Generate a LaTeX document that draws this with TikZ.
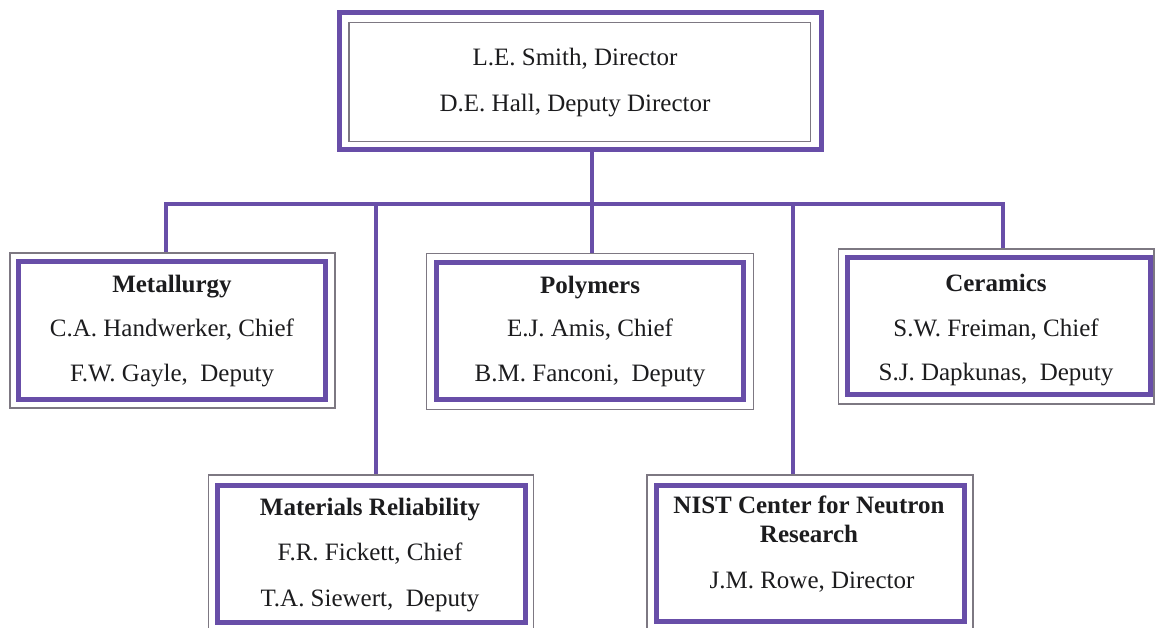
\documentclass[tikz,border=0pt]{standalone}
\usepackage{fontspec}
\setmainfont{Liberation Serif}
\definecolor{orgpurple}{RGB}{104,78,168}
\definecolor{framegrey}{RGB}{125,120,130}
\definecolor{inkgrey}{RGB}{28,28,30}
\begin{document}
\begin{tikzpicture}[x=1pt,y=-1pt,
  thickbox/.style={draw=orgpurple, line width=5pt, rectangle, inner sep=0pt},
  thinbox/.style={draw=framegrey, line width=1.3pt, rectangle, inner sep=0pt},
  conn/.style={draw=orgpurple, line width=4pt, line join=miter},
  txt/.style={anchor=base, inner sep=0pt, text=inkgrey, font=\fontsize{25}{29}\selectfont},
  ttl/.style={anchor=base, inner sep=0pt, text=inkgrey, font=\fontsize{25}{29}\selectfont\bfseries}]
\useasboundingbox (0,0) rectangle (1155,627);
\clip (0,0) rectangle (1155,627);
\fill[white] (0,0) rectangle (1155,627);

% director box
\node[thickbox, minimum width=482.4pt, minimum height=136.6pt] (top) at (580.5,81) {};
\node[thinbox, minimum width=461.7pt, minimum height=119pt] (topi) at (579.85,82.2) {};
\node[txt] (t1) at (575,65) {L.E. Smith, Director};
\node[txt] (t2) at (575,111.7) {D.E. Hall, Deputy Director};

% Metallurgy
\node[thinbox, minimum width=325pt, minimum height=155pt] (met) at (172.5,330.5) {};
\node[thickbox, minimum width=306.7pt, minimum height=137.6pt] (meti) at (171.65,330.5) {};
\node[ttl] (m1) at (172,292.7) {Metallurgy};
\node[txt] (m2) at (172,336) {C.A. Handwerker, Chief};
\node[txt] (m3) at (172,381.7) {F.W. Gayle,\ \ Deputy};

% Polymers
\node[thinbox, minimum width=326.6pt, minimum height=156pt] (pol) at (590,331.3) {};
\node[thickbox, minimum width=307pt, minimum height=136.6pt] (poli) at (589.5,331) {};
\node[ttl] (p1) at (590,293) {Polymers};
\node[txt] (p2) at (590,336.7) {E.J. Amis, Chief};
\node[txt] (p3) at (590,381.7) {B.M. Fanconi,\ \ Deputy};

% Ceramics
\node[thinbox, minimum width=315.7pt, minimum height=155pt] (cer) at (996.15,326.5) {};
\node[thickbox, minimum width=303.5pt, minimum height=137pt] (ceri) at (998.75,326) {};
\node[ttl] (c1) at (996,291.7) {Ceramics};
\node[txt] (c2) at (996,336.7) {S.W. Freiman, Chief};
\node[txt] (c3) at (996,380) {S.J. Dapkunas,\ \ Deputy};

% Materials Reliability
\node[thinbox, minimum width=325pt, minimum height=155pt] (rel) at (370.8,552.5) {};
\node[thickbox, minimum width=307.7pt, minimum height=137.3pt] (reli) at (371.15,553.65) {};
\node[ttl] (r1) at (370,515) {Materials Reliability};
\node[txt] (r2) at (370,560) {F.R. Fickett, Chief};
\node[txt] (r3) at (370,606.7) {T.A. Siewert,\ \ Deputy};

% NIST Center for Neutron Research
\node[thinbox, minimum width=326pt, minimum height=155pt] (nis) at (810,552.5) {};
\node[thickbox, minimum width=307.3pt, minimum height=136.7pt] (nisi) at (810.35,553.35) {};
\node[ttl] (n1) at (809,513.3) {NIST Center for Neutron};
\node[ttl] (n2) at (809,542.7) {Research};
\node[txt] (n3) at (812,588.3) {J.M. Rowe, Director};

% connectors
\coordinate (jM) at (166,204.3);
\coordinate (jR) at (376,204.3);
\coordinate (jP) at (591.7,204.3);
\coordinate (jN) at (792.7,204.3);
\coordinate (jC) at (1002.7,204.3);
\draw[conn] (jM |- met.north) -- (jM) -- (jC) -- (jC |- cer.north);
\draw[conn] (top.south -| jP) -- (jP |- pol.north);
\draw[conn] (jR) -- (jR |- rel.north);
\draw[conn] (jN) -- (jN |- nis.north);
\end{tikzpicture}
\end{document}
